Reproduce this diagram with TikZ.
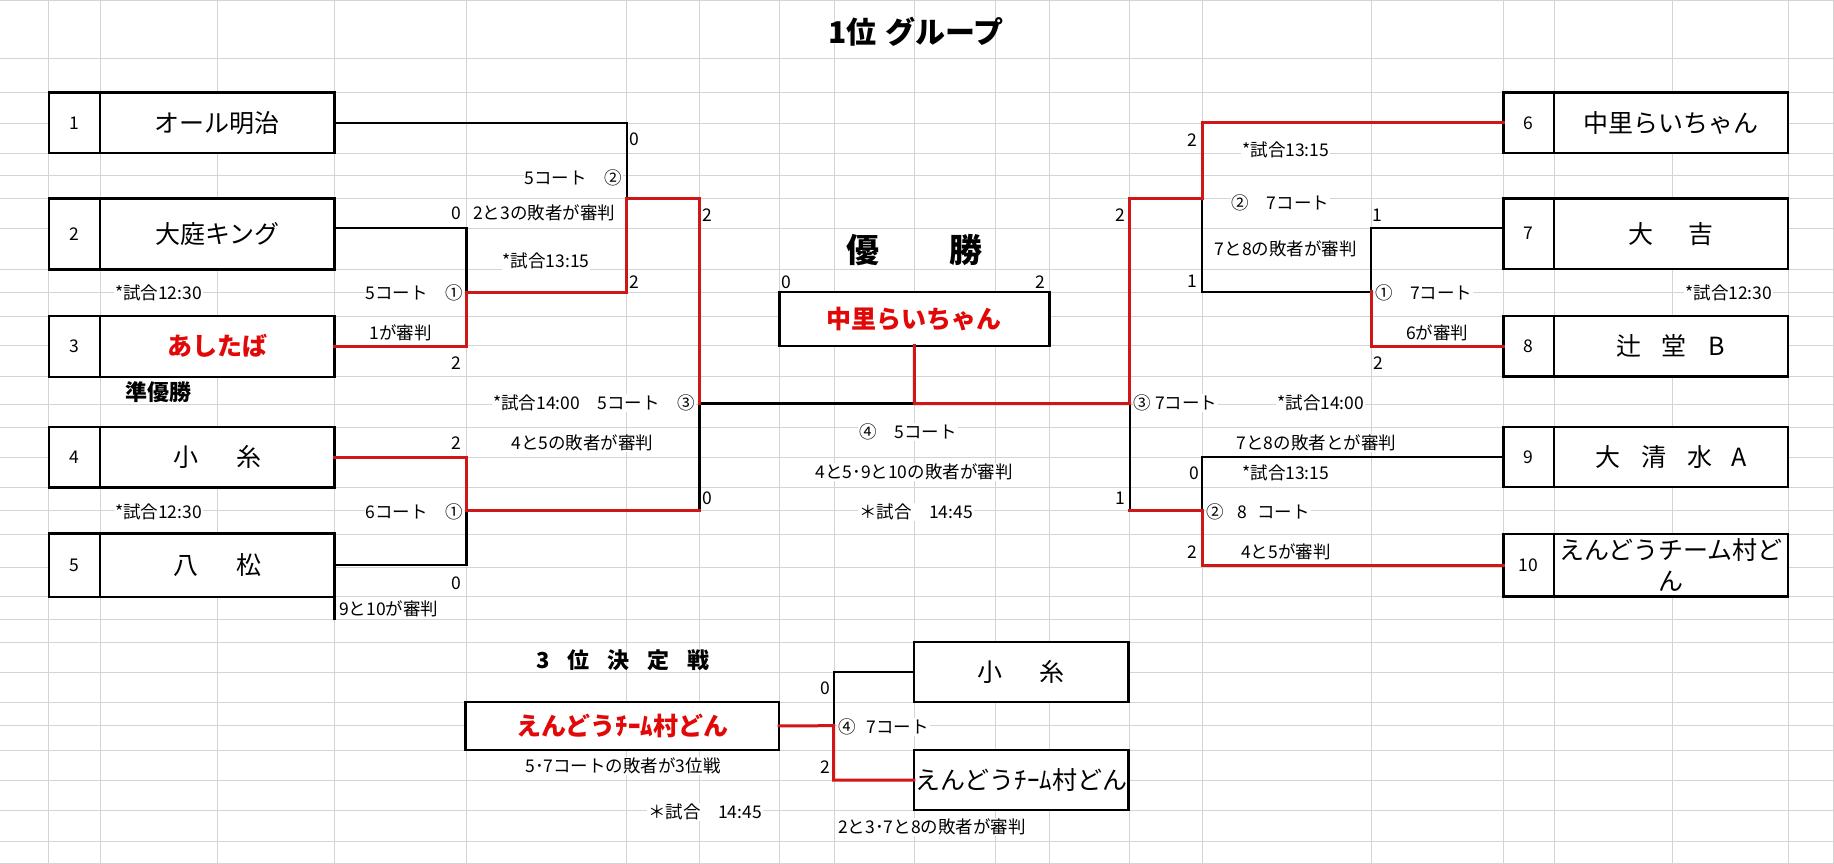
\documentclass[tikz,border=0pt]{standalone}
\usepackage{fontspec}
\setmainfont{Noto Sans CJK JP}
\usetikzlibrary{positioning}

\definecolor{gridgray}{RGB}{212,212,212}
\definecolor{winred}{RGB}{208,22,22}
\definecolor{namered}{RGB}{226,8,8}

\newcommand\teamfont{\fontsize{25}{31}\selectfont}
\newcommand\notefont{\fontsize{17.5}{21}\selectfont}
\newcommand\headfont{\fontsize{22}{26}\selectfont\bfseries}

\tikzset{
  gridline/.style={gridgray, line width=1pt},
  win/.style={winred, line width=3pt, line cap=rect},
  lose/.style={black, line width=2.2pt, line cap=rect},
  team/.style={draw, line width=2.4pt, fill=white, inner sep=0pt, outer sep=0pt,
    minimum width=234.5pt, minimum height=60.6pt, font=\teamfont, align=center},
  seed/.style={draw, line width=2.4pt, fill=white, inner sep=0pt, outer sep=0pt,
    minimum width=51pt, minimum height=60.6pt, font=\notefont},
  note/.style={font=\notefont, inner sep=1pt, fill=white},
  pts/.style={font=\notefont, inner sep=1pt},
}

\begin{document}
\begin{tikzpicture}[x=1pt, y=-1pt]
\useasboundingbox (0,0) rectangle (1834,864);
\fill[white] (0,0) rectangle (1834,864);

% sheet grid
\foreach \gy in {1,58.3,93,123.3,153.3,175,198.3,228.3,269,292.3,316,345.7,376.7,404,427,457.3,487.3,510,534,567,596.7,619.5,642.3,672,702,725.7,750.3,780.5,810,841.7,863}
  \draw[gridline] (0,\gy) -- (1834,\gy);
\foreach \gx in {48.7,100,217,334.5,466.5,626.8,699.5,779.3,834.5,914.3,995,1049.4,1129.6,1202,1371,1503.3,1554,1672,1788,1833}
  \draw[gridline] (\gx,0) -- (\gx,864);

% headings
\node[font=\fontsize{30}{34}\selectfont\bfseries, inner sep=1pt] (title) at (916,32) {1位\hspace{9pt}グループ};
\node[font=\fontsize{33}{36}\selectfont\bfseries, inner sep=1pt] (yusho) at (914.5,250) {優\hspace{70pt}勝};
\node[font=\headfont, inner sep=1pt] (runner) at (158.4,391.7) {準優勝};
\node[font=\headfont, inner sep=1pt] (third head) at (623,660) {3\hspace{18pt}位\hspace{18pt}決\hspace{18pt}定\hspace{18pt}戦};

% left side notes
\node[pts] (sc1) at (634,139) {0};
\node[note, anchor=east] (ct2) at (623,178) {5コート　②};
\node[pts] (sc2) at (456.5,213) {0};
\node[note, anchor=west] (rf2) at (472,213) {2と3の敗者が審判};
\node[pts] (sc3) at (707,215) {2};
\node[note] (tm2) at (546,261) {*試合13:15};
\node[pts] (sc4) at (634,282) {2};
\node[note] (tm1) at (158.5,293) {*試合12:30};
\node[note, anchor=east] (ct1) at (464,293) {5コート　①};
\node[note] (rf1) at (400.5,333) {1が審判};
\node[pts] (sc5) at (456.5,363) {2};
\node[note, anchor=east] (tm3) at (696,403) {*試合14:00　5コート　③};
\node[note] (rf3) at (582.5,443) {4と5の敗者が審判};
\node[pts] (sc6) at (456.5,443) {2};
\node[note] (tm4) at (158.5,511.7) {*試合12:30};
\node[note, anchor=east] (ct4) at (464,511.7) {6コート　①};
\node[pts] (sc7) at (707,498.3) {0};
\node[pts] (sc8) at (456.5,583.3) {0};
\node[note, anchor=west] (rf4) at (338,609) {9と10が審判};

% centre notes
\node[pts] (sc9) at (786.5,282) {0};
\node[pts] (sc10) at (1040,282) {2};
\node[pts] (sc12) at (1120.7,215) {2};
\node[pts] (sc11) at (1120,498.3) {1};
\node[note] (ct5) at (908,431.7) {④　5コート};
\node[note] (rf5) at (914,471.7) {4と5･9と10の敗者が審判};
\node[note] (tm5) at (916,511.7) {＊試合　14:45};

% right side notes
\node[pts] (sc13) at (1192.2,140) {2};
\node[note] (tm6) at (1285.8,150) {*試合13:15};
\node[note] (ct6) at (1280.5,202.7) {②　7コート};
\node[note] (rf6) at (1285.8,249.3) {7と8の敗者が審判};
\node[pts] (sc14) at (1377.6,215) {1};
\node[pts] (sc15) at (1192.2,281.7) {1};
\node[note, anchor=west] (ct7) at (1374,293.3) {①　7コート};
\node[note] (tm7) at (1728.8,293.3) {*試合12:30};
\node[note] (rf7) at (1437.3,333.3) {6が審判};
\node[pts] (sc16) at (1378.8,362.7) {2};
\node[note, anchor=west] (ct8) at (1132.5,402.7) {③\hspace{4pt}7コート};
\node[note] (tm8) at (1320.8,402.7) {*試合14:00};
\node[note] (rf8) at (1316.3,443.3) {7と8の敗者とが審判};
\node[pts] (sc17) at (1194,473.3) {0};
\node[note] (tm9) at (1285.8,473.3) {*試合13:15};
\node[note, anchor=west] (ct9) at (1205,511.7) {②\hspace{14pt}8\hspace{10pt}コート};
\node[pts] (sc19) at (1192.8,551.7) {2};
\node[note] (rf9) at (1285.8,551.7) {4と5が審判};

% third place notes
\node[pts] (sc20) at (825,688) {0};
\node[pts] (sc21) at (825,766.7) {2};
\node[note, anchor=west] (ct10) at (837,726.7) {④\hspace{11pt}7コート};
\node[note] (rf10) at (623,765.7) {5･7コートの敗者が3位戦};
\node[note] (tm10) at (705,811.7) {＊試合　14:45};
\node[note, anchor=west] (rf11) at (837,826.7) {2と3･7と8の敗者が審判};

% team boxes, left
\node[team] (t1) at (217.25,123) {オール明治};
\node[seed, left=0pt of t1] (s1) {1};
\node[team, minimum height=71pt] (t2) at (217.25,233.8) {大庭キング};
\node[seed, minimum height=71pt, left=0pt of t2] (s2) {2};
\node[team, minimum height=61pt, text=namered, font=\teamfont\bfseries] (t3) at (217.25,346.2) {あしたば};
\node[seed, minimum height=61pt, left=0pt of t3] (s3) {3};
\node[team] (t4) at (217.25,457) {小\hspace{38pt}糸};
\node[seed, left=0pt of t4] (s4) {4};
\node[team, minimum height=63.2pt] (t5) at (217.25,565.1) {八\hspace{38pt}松};
\node[seed, minimum height=63.2pt, left=0pt of t5] (s5) {5};
\coordinate (b5) at (334.5,619.5);
\draw[black, line width=2.4pt] (t5.south east) -- (b5);

% team boxes, right
\node[team, minimum width=234pt] (t6) at (1671,123) {中里らいちゃん};
\node[seed, minimum width=50.7pt, left=0pt of t6] (s6) {6};
\node[team, minimum width=234pt, minimum height=70.7pt] (t7) at (1671,233.7) {大\hspace{35.6pt}吉};
\node[seed, minimum width=50.7pt, minimum height=70.7pt, left=0pt of t7] (s7) {7};
\node[team, minimum width=234pt, minimum height=60.8pt] (t8) at (1671,346.1) {辻\hspace{20pt}堂\hspace{21.7pt}B};
\node[seed, minimum width=50.7pt, minimum height=60.8pt, left=0pt of t8] (s8) {8};
\node[team, minimum width=234pt, minimum height=60.3pt] (t9) at (1671,456.9) {大\hspace{20.5pt}清\hspace{21.5pt}水\hspace{18.5pt}A};
\node[seed, minimum width=50.7pt, minimum height=60.3pt, left=0pt of t9] (s9) {9};
\node[team, minimum width=234pt, minimum height=62.5pt] (t10) at (1671,565.3) {えんどうチーム村ど\\ん};
\node[seed, minimum width=50.7pt, minimum height=62.5pt, left=0pt of t10] (s10) {10};

% champion and third place boxes
\node[team, minimum width=270.1pt, minimum height=54pt, text=namered, font=\teamfont\bfseries] (champ) at (914.35,318.7) {中里らいちゃん};
\node[team, minimum width=313.7pt, minimum height=48.3pt, text=namered, font=\teamfont\bfseries] (third) at (622.15,725.85) {えんどうﾁｰﾑ村どん};
\node[team, minimum width=214.8pt, minimum height=60pt] (tA) at (1021.2,671.7) {小\hspace{37.4pt}糸};
\node[team, minimum width=214.8pt, minimum height=60pt] (tB) at (1021.2,780) {えんどうﾁｰﾑ村どん};

% bracket joints
\coordinate (j2) at (466.5,228.3);
\coordinate (j23) at (466.5,292.5);
\coordinate (j1) at (626.8,198.3);
\coordinate (j45) at (466.5,510);
\coordinate (jL) at (699.5,403.5);
\coordinate (jC) at (914.3,403.5);
\coordinate (j6) at (1202,198.3);
\coordinate (j7) at (1371,228.3);
\coordinate (j78) at (1371,291.7);
\coordinate (j910) at (1202,510);
\coordinate (jR) at (1129.6,403.5);
\coordinate (j3rd) at (833.7,725.7);

% losing lines
\draw[lose] (t1.east) -| (j1);
\draw[lose] (t2.east |- j2) -- (j2) -- (j23);
\draw[lose] (t5.east) -| (j45);
\draw[lose] (jL |- j45) -- (jL) -- (jC);
\draw[lose] (j6) |- (j78);
\draw[lose] (s7.west |- j7) -- (j7) -- (j78);
\draw[lose] (jR) -- (jR |- j910);
\draw[lose] (s9.west) -| (j910);
\draw[lose] (j3rd) |- (tA.west);

% winning lines
\draw[win] (j1) |- (j23);
\draw[win] (j1) -| (jL);
\draw[win] (t3.east) -| (j23);
\draw[win] (t4.east) -| (j45);
\draw[win] (j45) -- (jL |- j45);
\draw[win] (champ.south) -- (jC) -- (jR);
\draw[win] (s6.west) -| (j6);
\draw[win] (j6) -| (jR);
\draw[win] (s8.west) -| (j78);
\draw[win] (jR |- j910) -- (j910);
\draw[win] (s10.west) -| (j910);
\draw[win] (third.east) -- (j3rd) |- (tB.west);
\end{tikzpicture}
\end{document}
